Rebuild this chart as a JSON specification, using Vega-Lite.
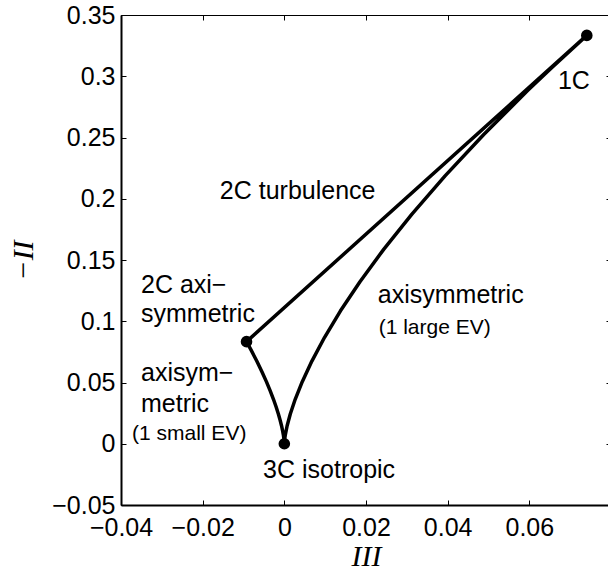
{
  "$schema": "https://vega.github.io/schema/vega-lite/v6.json",
  "width": 490,
  "height": 490,
  "autosize": {"type": "none"},
  "padding": {"left": 121, "top": 15, "right": 0, "bottom": 64},
  "background": "white",
  "config": {
    "font": "Liberation Sans",
    "view": {"stroke": "black", "strokeWidth": 1},
    "axis": {
      "grid": false,
      "labelFont": "Liberation Sans",
      "labelFontSize": 25,
      "labelColor": "black",
      "labelFlush": false,
      "labelOverlap": false,
      "tickColor": "black",
      "tickSize": -5,
      "tickWidth": 1,
      "domainColor": "black",
      "domainWidth": 2,
      "titleFont": "Liberation Serif",
      "titleFontStyle": "italic",
      "titleFontWeight": "normal",
      "titleFontSize": 30,
      "titleColor": "black"
    }
  },
  "datasets": {
    "curve": [
      {"k": 1, "III": -0.009259, "mII": 0.083333},
      {"k": 2, "III": -0.008192, "mII": 0.0768},
      {"k": 3, "III": -0.00675, "mII": 0.0675},
      {"k": 4, "III": -0.005488, "mII": 0.0588},
      {"k": 5, "III": -0.004394, "mII": 0.0507},
      {"k": 6, "III": -0.003456, "mII": 0.0432},
      {"k": 7, "III": -0.002662, "mII": 0.0363},
      {"k": 8, "III": -0.002, "mII": 0.03},
      {"k": 9, "III": -0.001458, "mII": 0.0243},
      {"k": 10, "III": -0.001024, "mII": 0.0192},
      {"k": 11, "III": -0.000686, "mII": 0.0147},
      {"k": 12, "III": -0.000432, "mII": 0.0108},
      {"k": 13, "III": -0.00025, "mII": 0.0075},
      {"k": 14, "III": -0.000128, "mII": 0.0048},
      {"k": 15, "III": -0.000054, "mII": 0.0027},
      {"k": 16, "III": -0.000016, "mII": 0.0012},
      {"k": 17, "III": -0.000002, "mII": 0.0003},
      {"k": 18, "III": 0, "mII": 0},
      {"k": 19, "III": 0.000002, "mII": 0.0003},
      {"k": 20, "III": 0.000016, "mII": 0.0012},
      {"k": 21, "III": 0.000054, "mII": 0.0027},
      {"k": 22, "III": 0.000128, "mII": 0.0048},
      {"k": 23, "III": 0.00025, "mII": 0.0075},
      {"k": 24, "III": 0.000686, "mII": 0.0147},
      {"k": 25, "III": 0.001458, "mII": 0.0243},
      {"k": 26, "III": 0.002662, "mII": 0.0363},
      {"k": 27, "III": 0.004394, "mII": 0.0507},
      {"k": 28, "III": 0.00675, "mII": 0.0675},
      {"k": 29, "III": 0.009826, "mII": 0.0867},
      {"k": 30, "III": 0.013718, "mII": 0.1083},
      {"k": 31, "III": 0.018522, "mII": 0.1323},
      {"k": 32, "III": 0.024334, "mII": 0.1587},
      {"k": 33, "III": 0.03125, "mII": 0.1875},
      {"k": 34, "III": 0.039366, "mII": 0.2187},
      {"k": 35, "III": 0.048778, "mII": 0.2523},
      {"k": 36, "III": 0.059582, "mII": 0.2883},
      {"k": 37, "III": 0.065536, "mII": 0.3072},
      {"k": 38, "III": 0.074074, "mII": 0.333333},
      {"k": 39, "III": -0.009259, "mII": 0.083333}
    ],
    "vertices": [
      {"name": "1C", "III": 0.074074, "mII": 0.333333},
      {"name": "2C axisymmetric", "III": -0.009259, "mII": 0.083333},
      {"name": "3C isotropic", "III": 0, "mII": 0}
    ],
    "labels": [
      {"label": "1C", "III": 0.067, "mII": 0.2896},
      {"label": "2C turbulence", "III": -0.0158, "mII": 0.1998},
      {"label": "2C axi−", "III": -0.0351, "mII": 0.1228},
      {"label": "symmetric", "III": -0.0351, "mII": 0.0996},
      {"label": "axisym−", "III": -0.0351, "mII": 0.0515},
      {"label": "metric", "III": -0.0351, "mII": 0.0262},
      {"label": "axisymmetric", "III": 0.0229, "mII": 0.1149},
      {"label": "3C isotropic", "III": -0.0052, "mII": -0.028}
    ],
    "smallLabels": [
      {"label": "(1 small EV)", "III": -0.0373, "mII": 0.0031},
      {"label": "(1 large EV)", "III": 0.0231, "mII": 0.0896}
    ]
  },
  "layer": [
    {
      "data": {"name": "curve"},
      "mark": {"type": "line", "color": "black", "strokeWidth": 3.5, "strokeJoin": "round"},
      "encoding": {
        "x": {
          "field": "III", "type": "quantitative",
          "scale": {"domain": [-0.04, 0.08], "nice": false, "zero": false},
          "axis": {
            "orient": "bottom",
            "values": [-0.04, -0.02, 0, 0.02, 0.04, 0.06],
            "format": ".2~f",
            "labelPadding": 15,
            "title": "III",
            "titleX": 245,
            "titleY": 60,
            "titleBaseline": "alphabetic",
            "titleAlign": "center"
          }
        },
        "y": {
          "field": "mII", "type": "quantitative",
          "scale": {"domain": [-0.05, 0.35], "nice": false, "zero": false},
          "axis": {
            "orient": "left",
            "values": [-0.05, 0, 0.05, 0.1, 0.15, 0.2, 0.25, 0.3, 0.35],
            "format": ".2~f",
            "labelPadding": 11,
            "title": "−II",
            "titleAngle": -90,
            "titleX": -89,
            "titleY": 245,
            "titleBaseline": "alphabetic",
            "titleAlign": "center"
          }
        },
        "order": {"field": "k", "type": "quantitative"}
      }
    },
    {
      "data": {"name": "vertices"},
      "mark": {"type": "point", "filled": true, "shape": "circle", "color": "black", "size": 135, "opacity": 1},
      "encoding": {
        "x": {
          "field": "III", "type": "quantitative",
          "axis": {"orient": "top", "values": [-0.04, -0.02, 0, 0.02, 0.04, 0.06], "labels": false, "domain": false, "title": null}
        },
        "y": {
          "field": "mII", "type": "quantitative",
          "axis": {"orient": "right", "values": [-0.05, 0, 0.05, 0.1, 0.15, 0.2, 0.25, 0.3, 0.35], "labels": false, "domain": false, "title": null}
        }
      }
    },
    {
      "data": {"name": "labels"},
      "mark": {"type": "text", "align": "left", "baseline": "alphabetic", "fontSize": 25, "font": "Liberation Sans", "color": "black"},
      "encoding": {
        "x": {"field": "III", "type": "quantitative", "axis": null},
        "y": {"field": "mII", "type": "quantitative", "axis": null},
        "text": {"field": "label"}
      }
    },
    {
      "data": {"name": "smallLabels"},
      "mark": {"type": "text", "align": "left", "baseline": "alphabetic", "fontSize": 21, "font": "Liberation Sans", "color": "black"},
      "encoding": {
        "x": {"field": "III", "type": "quantitative", "axis": null},
        "y": {"field": "mII", "type": "quantitative", "axis": null},
        "text": {"field": "label"}
      }
    }
  ],
  "resolve": {"axis": {"x": "independent", "y": "independent"}}
}
